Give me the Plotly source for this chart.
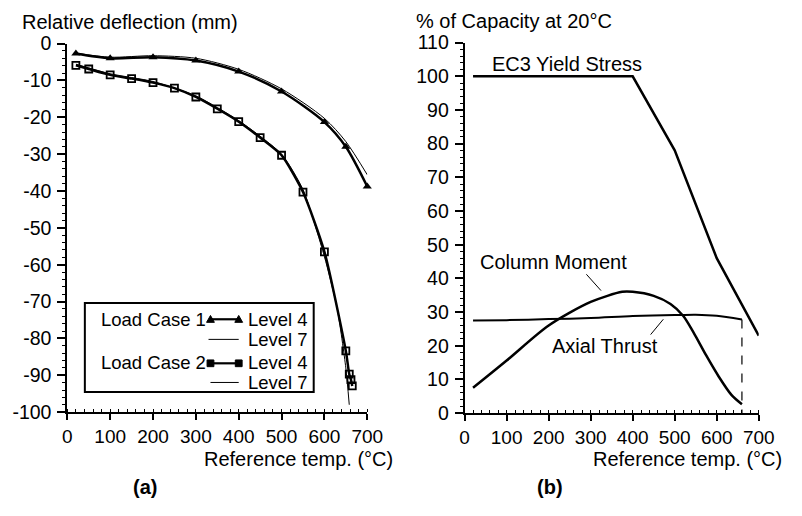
import plotly.graph_objects as go

# ---------------- data ----------------
# (a) relative deflection (mm) vs reference temperature (°C)
lc1_l4_t = [20, 100, 200, 300, 400, 500, 600, 650, 700]
lc1_l4_v = [-2.7, -4.0, -3.7, -4.6, -7.6, -13.0, -21.3, -28.0, -38.8]
lc1_l7_t = [20, 100, 200, 300, 400, 500, 600, 650, 700]
lc1_l7_v = [-2.6, -3.7, -3.3, -4.0, -7.0, -12.3, -20.3, -26.6, -35.6]
lc2_l4_t = [20, 50, 100, 150, 200, 250, 300, 350, 400, 450, 500, 550, 600, 650, 658, 662, 665]
lc2_l4_v = [-5.9, -6.9, -8.5, -9.5, -10.6, -12.1, -14.5, -17.7, -21.2, -25.5, -30.3, -40.3,
            -56.5, -83.4, -89.7, -91.2, -92.9]
lc2_l7_t = [20, 100, 200, 300, 400, 500, 550, 600, 630, 650, 658]
lc2_l7_v = [-5.6, -8.2, -10.3, -14.2, -20.9, -30.0, -39.6, -57.8, -72.0, -88.0, -98.0]

# (b) % of capacity at 20°C vs reference temperature (°C)
ec3_t = [20, 400, 500, 600, 700]
ec3_v = [100, 100, 78, 46, 23]
moment_t = [20, 100, 200, 300, 375, 400, 450, 490, 520, 545, 575, 605, 635, 660]
moment_v = [7.5, 15.6, 26.0, 33.0, 36.0, 36.0, 34.8, 32.4, 28.9, 23.9, 17.1, 10.8, 5.4, 2.6]
thrust_t = [20, 100, 200, 300, 400, 500, 550, 600, 660]
thrust_v = [27.5, 27.6, 27.9, 28.2, 28.8, 29.1, 29.2, 28.9, 27.8]

x_ticks = [0, 100, 200, 300, 400, 500, 600, 700]
ya_ticks = [0, -10, -20, -30, -40, -50, -60, -70, -80, -90, -100]
yb_ticks = [0, 10, 20, 30, 40, 50, 60, 70, 80, 90, 100, 110]

# ---------------- layout helpers ----------------
W, H = 802, 516
FONT = "Liberation Sans, Arial, sans-serif"


def px(x):
    return x / W


def py(y):
    return 1 - y / H


fig = go.Figure()

# (a) traces
fig.add_trace(go.Scatter(x=lc1_l7_t, y=lc1_l7_v, mode="lines", line=dict(color="black", width=1, shape="spline", smoothing=0.8),
                         xaxis="x", yaxis="y", cliponaxis=False))
fig.add_trace(go.Scatter(x=lc2_l7_t, y=lc2_l7_v, mode="lines", line=dict(color="black", width=1, shape="spline", smoothing=0.6),
                         xaxis="x", yaxis="y", cliponaxis=False))
fig.add_trace(go.Scatter(x=lc1_l4_t, y=lc1_l4_v, mode="lines+markers",
                         line=dict(color="black", width=2.5, shape="spline", smoothing=0.8),
                         marker=dict(symbol="triangle-up", size=8, color="black"),
                         xaxis="x", yaxis="y", cliponaxis=False))
fig.add_trace(go.Scatter(x=lc2_l4_t, y=lc2_l4_v, mode="lines+markers",
                         line=dict(color="black", width=2.5, shape="spline", smoothing=0.6),
                         marker=dict(symbol="square-open", size=7, color="black", line=dict(width=1.8)),
                         xaxis="x", yaxis="y", cliponaxis=False))

# (b) traces
fig.add_trace(go.Scatter(x=ec3_t, y=ec3_v, mode="lines", line=dict(color="black", width=2.5),
                         xaxis="x2", yaxis="y2", cliponaxis=False))
fig.add_trace(go.Scatter(x=moment_t, y=moment_v, mode="lines", line=dict(color="black", width=2.5, shape="spline", smoothing=0.8),
                         xaxis="x2", yaxis="y2", cliponaxis=False))
fig.add_trace(go.Scatter(x=thrust_t, y=thrust_v, mode="lines", line=dict(color="black", width=2, shape="spline", smoothing=0.8),
                         xaxis="x2", yaxis="y2", cliponaxis=False))
# dashed drop line at the end of the axial thrust curve
fig.add_trace(go.Scatter(x=[thrust_t[-1], thrust_t[-1]], y=[thrust_v[-1], 0], mode="lines",
                         line=dict(color="black", width=1.2, dash="dash"),
                         xaxis="x2", yaxis="y2", cliponaxis=False))

xtickfont = dict(family=FONT, size=19, color="black")
ytickfont = dict(family=FONT, size=19.5, color="black")
common_x = dict(range=[0, 700], tickvals=x_ticks, ticktext=[str(v) for v in x_ticks],
                ticks="outside", ticklen=6, tickwidth=2, ticklabelstandoff=0,
                showline=True, linewidth=2, linecolor="black", showgrid=False, zeroline=False,
                tickfont=xtickfont, tickcolor="black",
                minor=dict(dtick=20, ticks="inside", ticklen=3, tickwidth=1, tickcolor="black"))
common_y = dict(ticks="outside", ticklen=8, tickwidth=2, showline=True, linewidth=2, ticklabelstandoff=2,
                linecolor="black", showgrid=False, zeroline=False, tickfont=ytickfont, tickcolor="black",
                minor=dict(dtick=2, ticks="outside", ticklen=3, tickwidth=1, tickcolor="black"))

fig.update_layout(
    width=W, height=H, margin=dict(l=0, r=0, t=0, b=0),
    paper_bgcolor="white", plot_bgcolor="white", showlegend=False,
    font=dict(family=FONT, color="black"),
    xaxis=dict(domain=[px(64), px(372)], anchor="y", **common_x),
    yaxis=dict(domain=[py(419), py(34)], anchor="x", range=[-100, 0], tickvals=ya_ticks,
               ticktext=[str(v) for v in ya_ticks], **common_y),
    xaxis2=dict(domain=[px(472), px(774)], anchor="y2", **common_x),
    yaxis2=dict(domain=[py(420), py(33)], anchor="x2", range=[0, 110], tickvals=yb_ticks,
                ticktext=[str(v) for v in yb_ticks], **common_y),
)

txt = dict(family=FONT, size=20, color="black")
leg = dict(family=FONT, size=18.5, color="black")
annots = [
    dict(text="Relative deflection (mm)", x=px(16), y=py(12), xanchor="left", yanchor="middle"),
    dict(text="% of Capacity at 20°C", x=px(421), y=py(10), xanchor="left", yanchor="middle"),
    dict(text="Reference temp. (°C)", x=px(399), y=py(468), xanchor="right", yanchor="middle"),
    dict(text="Reference temp. (°C)", x=px(799), y=py(468), xanchor="right", yanchor="middle"),
    dict(text="<b>(a)</b>", x=px(144), y=py(497), xanchor="center", yanchor="middle"),
    dict(text="<b>(b)</b>", x=px(560), y=py(497), xanchor="center", yanchor="middle"),
    dict(text="EC3 Yield Stress", x=px(499), y=py(55), xanchor="left", yanchor="middle"),
    dict(text="Column Moment", x=px(487), y=py(262), xanchor="left", yanchor="middle"),
    dict(text="Axial Thrust", x=px(561), y=py(350), xanchor="left", yanchor="middle"),
]
for a in annots:
    a.update(font=txt)
legend_txt = [
    dict(text="Load Case 1", x=px(207), y=py(322), xanchor="right", yanchor="middle"),
    dict(text="Level 4", x=px(249), y=py(322), xanchor="left", yanchor="middle"),
    dict(text="Level 7", x=px(249), y=py(343), xanchor="left", yanchor="middle"),
    dict(text="Load Case 2", x=px(207), y=py(367), xanchor="right", yanchor="middle"),
    dict(text="Level 4", x=px(249), y=py(367), xanchor="left", yanchor="middle"),
    dict(text="Level 7", x=px(249), y=py(388), xanchor="left", yanchor="middle"),
]
for a in legend_txt:
    a.update(font=leg)
annots = annots + legend_txt
for a in annots:
    a.update(xref="paper", yref="paper", showarrow=False, borderpad=0)
fig.update_layout(annotations=annots)

shapes = []


def pline(x0, y0, x1, y1, w=1.0):
    shapes.append(dict(type="line", xref="paper", yref="paper", x0=px(x0), y0=py(y0), x1=px(x1), y1=py(y1),
                       line=dict(color="black", width=w)))


def tri(cx, cy, s=4):
    shapes.append(dict(type="path", xref="paper", yref="paper",
                       path=f"M {px(cx - s)} {py(cy + s * 0.8)} L {px(cx + s)} {py(cy + s * 0.8)} L {px(cx)} {py(cy - s)} Z",
                       fillcolor="black", line=dict(color="black", width=1)))


def sq(cx, cy, s=3.5):
    shapes.append(dict(type="rect", xref="paper", yref="paper", x0=px(cx - s), x1=px(cx + s), y0=py(cy + s), y1=py(cy - s),
                       fillcolor="black", line=dict(color="black", width=1)))


# legend box
shapes.append(dict(type="rect", xref="paper", yref="paper", x0=px(82), x1=px(317), y0=py(398), y1=py(305),
                   line=dict(color="black", width=2), fillcolor="rgba(0,0,0,0)"))
pline(210, 322, 240, 322, 2.2); tri(211, 322); tri(240, 322)
pline(209, 343, 240, 343, 1)
pline(210, 368, 240, 368, 2.2); sq(211, 368); sq(240, 368)
pline(211, 388, 240, 388, 1)
# leader lines in (b)
pline(597, 275, 612, 292, 1)
pline(663, 338, 676, 322, 1)
fig.update_layout(shapes=shapes)

fig.write_html("out.html")
